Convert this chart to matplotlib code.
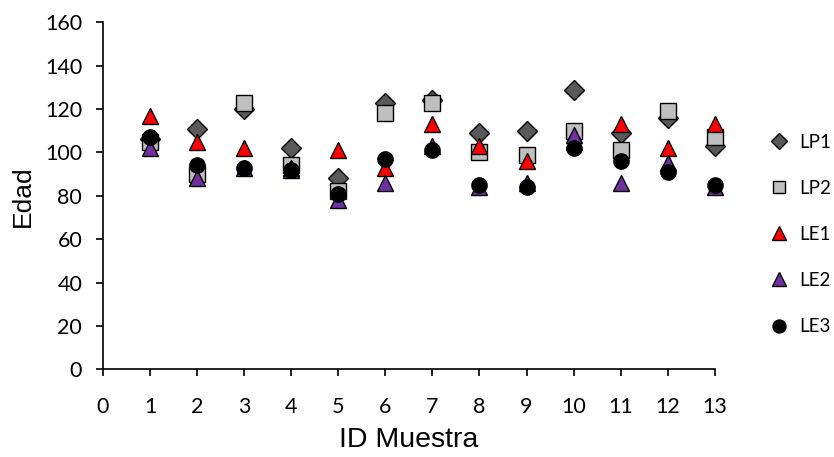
import matplotlib as mpl
mpl.use('Agg')
import matplotlib.pyplot as plt

# Data
muestra = [1, 2, 3, 4, 5, 6, 7, 8, 9, 10, 11, 12, 13]
lp1 = [106, 111, 120, 102, 88, 123, 124, 109, 110, 129, 109, 116, 103]
lp2 = [105, 90, 123, 94, 82, 118, 123, 100, 99, 110, 101, 119, 107]
le1 = [117, 105, 102, 93, 101, 93, 113, 103, 96, 105, 113, 102, 113]
le2 = [102, 88, 93, 92, 78, 86, 103, 84, 86, 108, 86, 95, 84]
le3 = [107, 94, 93, 92, 81, 97, 101, 85, 84, 102, 96, 91, 85]

series = [
    ("LP1", lp1, "D", "#595959", 10),
    ("LP2", lp2, "s", "#BFBFBF", 11),
    ("LE1", le1, "^", "#FF0000", 11.5),
    ("LE2", le2, "^", "#7030A0", 11.5),
    ("LE3", le3, "o", "#000000", 11),
]

tick_font = "Lato"
title_font = "Liberation Sans"

fig = plt.figure(figsize=(8.34, 4.57), dpi=100, facecolor='w')
ax = fig.add_axes([0.1235, 0.192, 0.7335, 0.759])

for name, vals, mk, col, ms in series:
    ax.plot(muestra, vals, linestyle='none', marker=mk, markersize=ms,
            markerfacecolor=col, markeredgecolor='black', markeredgewidth=1,
            label=name, clip_on=False)

ax.set_xlim(0, 13)
ax.set_ylim(0, 160)
ax.set_xticks(range(0, 14))
ax.set_yticks(range(0, 161, 20))
for s in ['top', 'right']:
    ax.spines[s].set_visible(False)
for s in ['left', 'bottom']:
    ax.spines[s].set_linewidth(1.2)
ax.tick_params(direction='out', length=5, width=1.2, labelsize=15.5)
for lab in ax.get_xticklabels() + ax.get_yticklabels():
    lab.set_fontfamily(tick_font)
ax.tick_params(axis='x', pad=15)
ax.tick_params(axis='y', pad=10)

ax.set_xlabel("ID Muestra", fontsize=20.5, fontfamily=title_font, labelpad=7)
ax.set_ylabel("Edad", fontsize=19, fontfamily=title_font, labelpad=7)

leg = fig.legend(loc='upper left', bbox_to_anchor=(0.9005, 0.744), frameon=False,
                 handletextpad=0.47, labelspacing=1.55, markerscale=0.85,
                 prop={'family': tick_font, 'size': 13.5}, handlelength=1.2,
                 borderpad=0.4)

plt.savefig("out.png", dpi=100, facecolor='w')
